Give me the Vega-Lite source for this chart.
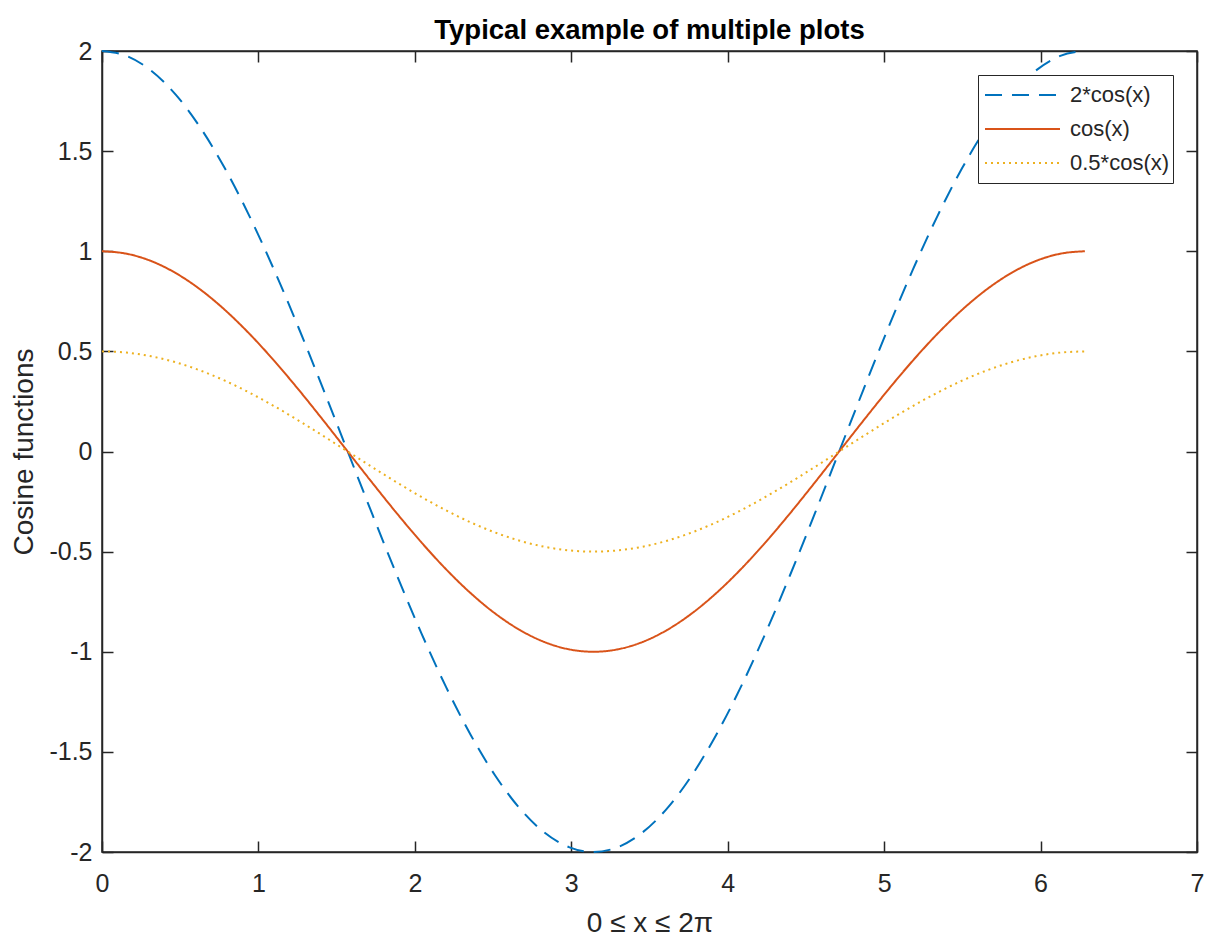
{
  "$schema": "https://vega.github.io/schema/vega-lite/v6.json",
  "width": 1095,
  "height": 801,
  "autosize": {"type": "none"},
  "padding": {"left": 102, "top": 51, "right": 15, "bottom": 86},
  "background": "white",
  "title": {"text": "Typical example of multiple plots", "fontSize": 27.5, "font": "Liberation Sans", "fontWeight": "bold", "color": "#000000", "anchor": "middle", "offset": -5},
  "config": {
    "view": {"stroke": "#262626", "strokeWidth": 1.5},
    "axis": {"domainColor": "#262626", "domainWidth": 1.5, "tickColor": "#262626", "tickWidth": 1.5, "tickSize": -11, "labelColor": "#262626", "labelFont": "Liberation Sans", "labelFontSize": 25, "titleFont": "Liberation Sans", "titleFontSize": 28, "titleFontWeight": "normal", "titleColor": "#262626", "grid": false, "labelFlush": false},
    "legend": {"strokeColor": "#262626", "fillColor": "white", "padding": 3, "labelFont": "Liberation Sans", "labelFontSize": 22, "labelColor": "#262626", "symbolType": "stroke", "symbolSize": 5625, "symbolStrokeWidth": 2, "clipHeight": 34, "labelOffset": 9, "rowPadding": 0, "symbolOffset": 3}
  },
  "data": {"values": [
    {"x": 0.0000, "y": 2, "s": "2*cos(x)"}, {"x": 0.1571, "y": 1.9754, "s": "2*cos(x)"}, {"x": 0.3142, "y": 1.9021, "s": "2*cos(x)"}, {"x": 0.4712, "y": 1.7820, "s": "2*cos(x)"}, {"x": 0.6283, "y": 1.6180, "s": "2*cos(x)"}, {"x": 0.7854, "y": 1.4142, "s": "2*cos(x)"}, {"x": 0.9425, "y": 1.1756, "s": "2*cos(x)"}, {"x": 1.0996, "y": 0.9080, "s": "2*cos(x)"}, {"x": 1.2566, "y": 0.6180, "s": "2*cos(x)"}, {"x": 1.4137, "y": 0.3129, "s": "2*cos(x)"}, {"x": 1.5708, "y": 0, "s": "2*cos(x)"}, {"x": 1.7279, "y": -0.3129, "s": "2*cos(x)"}, {"x": 1.8850, "y": -0.6180, "s": "2*cos(x)"}, {"x": 2.0420, "y": -0.9080, "s": "2*cos(x)"}, {"x": 2.1991, "y": -1.1756, "s": "2*cos(x)"}, {"x": 2.3562, "y": -1.4142, "s": "2*cos(x)"}, {"x": 2.5133, "y": -1.6180, "s": "2*cos(x)"}, {"x": 2.6704, "y": -1.7820, "s": "2*cos(x)"}, {"x": 2.8274, "y": -1.9021, "s": "2*cos(x)"}, {"x": 2.9845, "y": -1.9754, "s": "2*cos(x)"}, {"x": 3.1416, "y": -2, "s": "2*cos(x)"}, {"x": 3.2987, "y": -1.9754, "s": "2*cos(x)"}, {"x": 3.4558, "y": -1.9021, "s": "2*cos(x)"}, {"x": 3.6128, "y": -1.7820, "s": "2*cos(x)"}, {"x": 3.7699, "y": -1.6180, "s": "2*cos(x)"}, {"x": 3.9270, "y": -1.4142, "s": "2*cos(x)"}, {"x": 4.0841, "y": -1.1756, "s": "2*cos(x)"}, {"x": 4.2412, "y": -0.9080, "s": "2*cos(x)"}, {"x": 4.3982, "y": -0.6180, "s": "2*cos(x)"}, {"x": 4.5553, "y": -0.3129, "s": "2*cos(x)"}, {"x": 4.7124, "y": 0, "s": "2*cos(x)"}, {"x": 4.8695, "y": 0.3129, "s": "2*cos(x)"}, {"x": 5.0265, "y": 0.6180, "s": "2*cos(x)"}, {"x": 5.1836, "y": 0.9080, "s": "2*cos(x)"}, {"x": 5.3407, "y": 1.1756, "s": "2*cos(x)"}, {"x": 5.4978, "y": 1.4142, "s": "2*cos(x)"}, {"x": 5.6549, "y": 1.6180, "s": "2*cos(x)"}, {"x": 5.8119, "y": 1.7820, "s": "2*cos(x)"}, {"x": 5.9690, "y": 1.9021, "s": "2*cos(x)"}, {"x": 6.1261, "y": 1.9754, "s": "2*cos(x)"}, {"x": 6.2832, "y": 2, "s": "2*cos(x)"},
    {"x": 0.0000, "y": 1, "s": "cos(x)"}, {"x": 0.1571, "y": 0.9877, "s": "cos(x)"}, {"x": 0.3142, "y": 0.9511, "s": "cos(x)"}, {"x": 0.4712, "y": 0.8910, "s": "cos(x)"}, {"x": 0.6283, "y": 0.8090, "s": "cos(x)"}, {"x": 0.7854, "y": 0.7071, "s": "cos(x)"}, {"x": 0.9425, "y": 0.5878, "s": "cos(x)"}, {"x": 1.0996, "y": 0.4540, "s": "cos(x)"}, {"x": 1.2566, "y": 0.3090, "s": "cos(x)"}, {"x": 1.4137, "y": 0.1564, "s": "cos(x)"}, {"x": 1.5708, "y": 0, "s": "cos(x)"}, {"x": 1.7279, "y": -0.1564, "s": "cos(x)"}, {"x": 1.8850, "y": -0.3090, "s": "cos(x)"}, {"x": 2.0420, "y": -0.4540, "s": "cos(x)"}, {"x": 2.1991, "y": -0.5878, "s": "cos(x)"}, {"x": 2.3562, "y": -0.7071, "s": "cos(x)"}, {"x": 2.5133, "y": -0.8090, "s": "cos(x)"}, {"x": 2.6704, "y": -0.8910, "s": "cos(x)"}, {"x": 2.8274, "y": -0.9511, "s": "cos(x)"}, {"x": 2.9845, "y": -0.9877, "s": "cos(x)"}, {"x": 3.1416, "y": -1, "s": "cos(x)"}, {"x": 3.2987, "y": -0.9877, "s": "cos(x)"}, {"x": 3.4558, "y": -0.9511, "s": "cos(x)"}, {"x": 3.6128, "y": -0.8910, "s": "cos(x)"}, {"x": 3.7699, "y": -0.8090, "s": "cos(x)"}, {"x": 3.9270, "y": -0.7071, "s": "cos(x)"}, {"x": 4.0841, "y": -0.5878, "s": "cos(x)"}, {"x": 4.2412, "y": -0.4540, "s": "cos(x)"}, {"x": 4.3982, "y": -0.3090, "s": "cos(x)"}, {"x": 4.5553, "y": -0.1564, "s": "cos(x)"}, {"x": 4.7124, "y": 0, "s": "cos(x)"}, {"x": 4.8695, "y": 0.1564, "s": "cos(x)"}, {"x": 5.0265, "y": 0.3090, "s": "cos(x)"}, {"x": 5.1836, "y": 0.4540, "s": "cos(x)"}, {"x": 5.3407, "y": 0.5878, "s": "cos(x)"}, {"x": 5.4978, "y": 0.7071, "s": "cos(x)"}, {"x": 5.6549, "y": 0.8090, "s": "cos(x)"}, {"x": 5.8119, "y": 0.8910, "s": "cos(x)"}, {"x": 5.9690, "y": 0.9511, "s": "cos(x)"}, {"x": 6.1261, "y": 0.9877, "s": "cos(x)"}, {"x": 6.2832, "y": 1, "s": "cos(x)"},
    {"x": 0.0000, "y": 0.5, "s": "0.5*cos(x)"}, {"x": 0.1571, "y": 0.4938, "s": "0.5*cos(x)"}, {"x": 0.3142, "y": 0.4755, "s": "0.5*cos(x)"}, {"x": 0.4712, "y": 0.4455, "s": "0.5*cos(x)"}, {"x": 0.6283, "y": 0.4045, "s": "0.5*cos(x)"}, {"x": 0.7854, "y": 0.3536, "s": "0.5*cos(x)"}, {"x": 0.9425, "y": 0.2939, "s": "0.5*cos(x)"}, {"x": 1.0996, "y": 0.2270, "s": "0.5*cos(x)"}, {"x": 1.2566, "y": 0.1545, "s": "0.5*cos(x)"}, {"x": 1.4137, "y": 0.0782, "s": "0.5*cos(x)"}, {"x": 1.5708, "y": 0, "s": "0.5*cos(x)"}, {"x": 1.7279, "y": -0.0782, "s": "0.5*cos(x)"}, {"x": 1.8850, "y": -0.1545, "s": "0.5*cos(x)"}, {"x": 2.0420, "y": -0.2270, "s": "0.5*cos(x)"}, {"x": 2.1991, "y": -0.2939, "s": "0.5*cos(x)"}, {"x": 2.3562, "y": -0.3536, "s": "0.5*cos(x)"}, {"x": 2.5133, "y": -0.4045, "s": "0.5*cos(x)"}, {"x": 2.6704, "y": -0.4455, "s": "0.5*cos(x)"}, {"x": 2.8274, "y": -0.4755, "s": "0.5*cos(x)"}, {"x": 2.9845, "y": -0.4938, "s": "0.5*cos(x)"}, {"x": 3.1416, "y": -0.5, "s": "0.5*cos(x)"}, {"x": 3.2987, "y": -0.4938, "s": "0.5*cos(x)"}, {"x": 3.4558, "y": -0.4755, "s": "0.5*cos(x)"}, {"x": 3.6128, "y": -0.4455, "s": "0.5*cos(x)"}, {"x": 3.7699, "y": -0.4045, "s": "0.5*cos(x)"}, {"x": 3.9270, "y": -0.3536, "s": "0.5*cos(x)"}, {"x": 4.0841, "y": -0.2939, "s": "0.5*cos(x)"}, {"x": 4.2412, "y": -0.2270, "s": "0.5*cos(x)"}, {"x": 4.3982, "y": -0.1545, "s": "0.5*cos(x)"}, {"x": 4.5553, "y": -0.0782, "s": "0.5*cos(x)"}, {"x": 4.7124, "y": 0, "s": "0.5*cos(x)"}, {"x": 4.8695, "y": 0.0782, "s": "0.5*cos(x)"}, {"x": 5.0265, "y": 0.1545, "s": "0.5*cos(x)"}, {"x": 5.1836, "y": 0.2270, "s": "0.5*cos(x)"}, {"x": 5.3407, "y": 0.2939, "s": "0.5*cos(x)"}, {"x": 5.4978, "y": 0.3536, "s": "0.5*cos(x)"}, {"x": 5.6549, "y": 0.4045, "s": "0.5*cos(x)"}, {"x": 5.8119, "y": 0.4455, "s": "0.5*cos(x)"}, {"x": 5.9690, "y": 0.4755, "s": "0.5*cos(x)"}, {"x": 6.1261, "y": 0.4938, "s": "0.5*cos(x)"}, {"x": 6.2832, "y": 0.5, "s": "0.5*cos(x)"}
  ]},
  "layer": [
    {
      "mark": {"type": "line", "strokeWidth": 2, "interpolate": "monotone"},
      "encoding": {
        "x": {"field": "x", "type": "quantitative", "scale": {"domain": [0, 7], "nice": false, "zero": false},
              "axis": {"orient": "bottom", "values": [0, 1, 2, 3, 4, 5, 6, 7], "title": "0 ≤ x ≤ 2π", "labelPadding": 30, "titlePadding": 13, "labelExpr": "'' + datum.value"}},
        "y": {"field": "y", "type": "quantitative", "scale": {"domain": [-2, 2], "nice": false, "zero": false},
              "axis": {"orient": "left", "values": [-2, -1.5, -1, -0.5, 0, 0.5, 1, 1.5, 2], "title": "Cosine functions", "labelPadding": 21, "titlePadding": 10, "labelExpr": "'' + datum.value"}},
        "color": {"field": "s", "type": "nominal", "sort": null,
                  "scale": {"domain": ["2*cos(x)", "cos(x)", "0.5*cos(x)"], "range": ["#0072BD", "#D95319", "#EDB120"]},
                  "legend": {"title": null, "orient": "none", "legendX": 876, "legendY": 24}},
        "strokeDash": {"field": "s", "type": "nominal", "sort": null,
                  "scale": {"domain": ["2*cos(x)", "cos(x)", "0.5*cos(x)"], "range": [[17, 10], [1, 0], [2, 4]]},
                  "legend": {"title": null, "orient": "none", "legendX": 876, "legendY": 24}}
      }
    },
    {
      "mark": {"type": "point", "opacity": 0},
      "encoding": {
        "x": {"field": "x", "type": "quantitative", "axis": {"orient": "top", "values": [0, 1, 2, 3, 4, 5, 6, 7], "labels": false, "title": null}},
        "y": {"field": "y", "type": "quantitative", "axis": {"orient": "right", "values": [-2, -1.5, -1, -0.5, 0, 0.5, 1, 1.5, 2], "labels": false, "title": null}}
      }
    }
  ],
  "resolve": {"axis": {"x": "independent", "y": "independent"}}
}
